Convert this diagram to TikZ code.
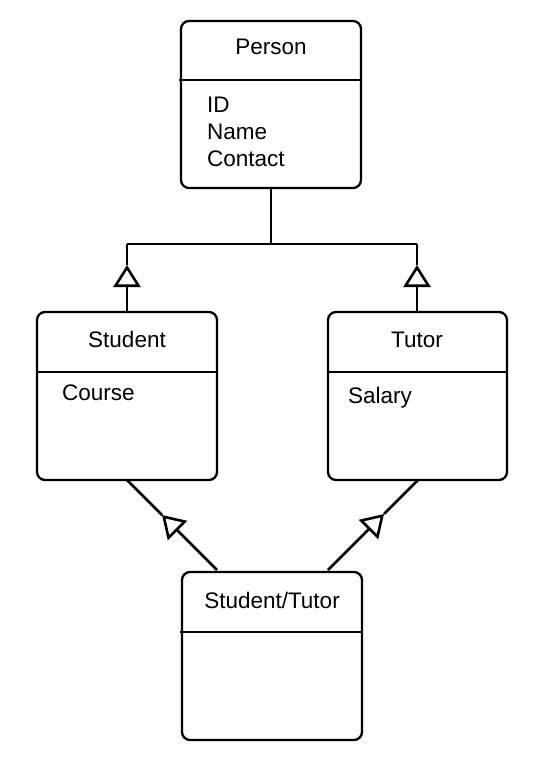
\documentclass[tikz,border=0pt]{standalone}
\usepackage{fontspec}
\setmainfont{Liberation Sans}
\usetikzlibrary{arrows.meta}
\begin{document}
\begin{tikzpicture}[x=1pt,y=-1pt,
  cls/.style={draw, line width=2.3pt, rounded corners=8pt},
  sep/.style={line width=2.2pt},
  conn/.style={line width=2.8pt},
  gen/.style={-{Triangle[open,length=22pt,width=27pt,line width=2.6pt]}},
  lbl/.style={font=\fontsize{22.5}{27}\selectfont, anchor=base, inner sep=0pt},
  attr/.style={font=\fontsize{22.5}{27}\selectfont, anchor=base west, inner sep=0pt}]
\useasboundingbox (0,0) rectangle (545,762);
% Person
\draw[cls] (181,21) rectangle (361,188);
\draw[sep] (179,80) -- (362,80);
\node[lbl] (person) at (271,55) {Person};
\node[attr] (id) at (207,113) {ID};
\node[attr] (name) at (207,140) {Name};
\node[attr] (contact) at (207,167) {Contact};
% Student
\draw[cls] (37,312) rectangle (217,480);
\draw[sep] (37,372) -- (217,372);
\node[lbl] (student) at (127,347) {Student};
\node[attr] (course) at (62,400) {Course};
% Tutor
\draw[cls] (328,312) rectangle (507,480);
\draw[sep] (328,372) -- (507,372);
\node[lbl] (tutor) at (417,347) {Tutor};
\node[attr] (salary) at (348,403) {Salary};
% Student/Tutor
\draw[cls] (182,572) rectangle (362,740);
\draw[sep] (180,632) -- (362,632);
\node[lbl] (st) at (272,608) {Student/Tutor};
% connectors
\coordinate (pb) at (271,188);
\coordinate (pj) at (271,244);
\coordinate (lt) at (127,244);
\coordinate (rt) at (417,244);
\coordinate (sb) at (127,312);
\coordinate (tb) at (417,312);
\draw[conn] (pb) -- (pj);
\draw[conn] (lt) -- (rt);
\draw[conn] (lt) -- (127,265);
\draw[conn] (rt) -- (417,265);
\draw[conn,gen] (sb) -- (127,265);
\draw[conn,gen] (tb) -- (417,265);
% diagonals
\coordinate (sbot) at (127,480);
\coordinate (tbot) at (418,480);
\coordinate (stl) at (217,570);
\coordinate (str) at (328,570);
\draw[conn] (sbot) -- (162,515);
\draw[conn,gen] (stl) -- (162,515);
\draw[conn] (tbot) -- (384,514);
\draw[conn,gen] (str) -- (384,514);
\end{tikzpicture}
\end{document}
